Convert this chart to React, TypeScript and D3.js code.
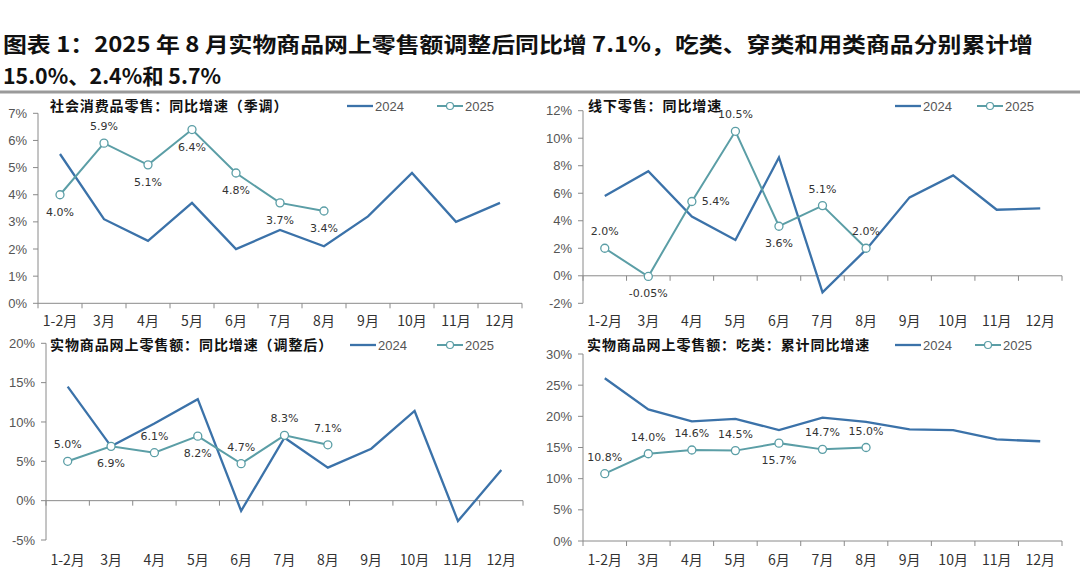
import * as d3 from "d3";

const months = ["1-2月", "3月", "4月", "5月", "6月", "7月", "8月", "9月", "10月", "11月", "12月"];

// 社会消费品零售：同比增速（季调）
const retail2024 = [5.5, 3.1, 2.3, 3.7, 2.0, 2.7, 2.1, 3.2, 4.8, 3.0, 3.7];
const retail2025 = [4.0, 5.9, 5.1, 6.4, 4.8, 3.7, 3.4];
const retailLabels = ["4.0%", "5.9%", "5.1%", "6.4%", "4.8%", "3.7%", "3.4%"];
const retailTicks = [0, 1, 2, 3, 4, 5, 6, 7];

// 线下零售：同比增速
const offline2024 = [5.8, 7.6, 4.3, 2.6, 8.6, -1.2, 1.9, 5.7, 7.3, 4.8, 4.9];
const offline2025 = [2.0, -0.05, 5.4, 10.5, 3.6, 5.1, 2.0];
const offlineLabels = ["2.0%", "-0.05%", "5.4%", "10.5%", "3.6%", "5.1%", "2.0%"];
const offlineTicks = [-2, 0, 2, 4, 6, 8, 10, 12];

// 实物商品网上零售额：同比增速（调整后）
const online2024 = [14.5, 6.9, 9.8, 12.9, -1.3, 8.0, 4.2, 6.6, 11.4, -2.6, 3.9];
const online2025 = [5.0, 6.9, 6.1, 8.2, 4.7, 8.3, 7.1];
const onlineLabels = ["5.0%", "6.9%", "6.1%", "8.2%", "4.7%", "8.3%", "7.1%"];
const onlineTicks = [-5, 0, 5, 10, 15, 20];

// 实物商品网上零售额：吃类：累计同比增速
const food2024 = [26.1, 21.1, 19.2, 19.6, 17.8, 19.8, 19.1, 17.9, 17.8, 16.3, 16.0];
const food2025 = [10.8, 14.0, 14.6, 14.5, 15.7, 14.7, 15.0];
const foodLabels = ["10.8%", "14.0%", "14.6%", "14.5%", "15.7%", "14.7%", "15.0%"];
const foodTicks = [0, 5, 10, 15, 20, 25, 30];

const C2024 = "#3b72a9";
const C2025 = "#5b9ea6";
const AXIS = "#8a8a8a";
const CJK = "'Noto Sans CJK SC', sans-serif";

type Pos = "a" | "b" | "r";

type PanelProps = {
  title: string;
  x0: number;
  x1: number;
  yTop: number;
  yBottom: number;
  ticks: number[];
  s2024: number[];
  s2025: number[];
  labels: string[];
  pos: Pos[];
  titleX: number;
  titleY: number;
  legendX: number;
  legend2X: number;
  labelY: number;
};

function Panel(p: PanelProps) {
  const x = d3.scaleBand<string>().domain(months).range([p.x0, p.x1]);
  const y = d3
    .scaleLinear()
    .domain(d3.extent(p.ticks) as [number, number])
    .range([p.yBottom, p.yTop]);
  const cx = (i: number) => (x(months[i]) as number) + x.bandwidth() / 2;

  const line = d3
    .line<number>()
    .x((_, i) => cx(i))
    .y((d) => y(d));

  const y0 = y(0);
  const edges = months.map((m) => x(m) as number).concat([p.x1]);

  return (
    <g>
      {/* y axis */}
      <line x1={p.x0} x2={p.x0} y1={p.yTop} y2={p.yBottom} stroke={AXIS} />
      {p.ticks.map((t) => (
        <g key={t}>
          <line x1={p.x0 - 5} x2={p.x0} y1={y(t)} y2={y(t)} stroke={AXIS} />
          <text
            x={p.x0 - 11}
            y={y(t)}
            dy="0.35em"
            textAnchor="end"
            fontFamily="'Liberation Sans', sans-serif"
            fontSize={13}
            fill="#555"
          >
            {t}%
          </text>
        </g>
      ))}
      {/* x axis */}
      <line x1={p.x0} x2={p.x1} y1={y0} y2={y0} stroke={AXIS} />
      {edges.map((e, i) => (
        <line key={i} x1={e} x2={e} y1={y0} y2={y0 + 5} stroke={AXIS} />
      ))}
      {months.map((m, i) => (
        <text
          key={m}
          x={cx(i)}
          y={p.labelY}
          dy="0.35em"
          textAnchor="middle"
          fontFamily={CJK}
          fontSize={14}
          fill="#333"
        >
          {m}
        </text>
      ))}
      {/* series */}
      <path d={line(p.s2024) || ""} fill="none" stroke={C2024} strokeWidth={2.3} />
      <path d={line(p.s2025) || ""} fill="none" stroke={C2025} strokeWidth={2} />
      {p.s2025.map((v, i) => (
        <circle key={i} cx={cx(i)} cy={y(v)} r={4} fill="#fff" stroke={C2025} strokeWidth={1.3} />
      ))}
      {p.s2025.map((v, i) => {
        const pos = p.pos[i];
        const tx = pos === "r" ? cx(i) + 10 : cx(i);
        const ty = pos === "a" ? y(v) - 13 : pos === "b" ? y(v) + 21 : y(v) + 4;
        return (
          <text
            key={i}
            x={tx}
            y={ty}
            textAnchor={pos === "r" ? "start" : "middle"}
            fontFamily="'DejaVu Sans', sans-serif"
            fontSize={11}
            fill="#333"
          >
            {p.labels[i]}
          </text>
        );
      })}
      {/* title */}
      <text
        x={p.titleX}
        y={p.titleY}
        dy="0.35em"
        fontFamily={CJK}
        fontWeight={700}
        fontSize={14}
        letterSpacing={0.9}
        fill="#111"
      >
        {p.title}
      </text>
      {/* legend */}
      <line x1={p.legendX} x2={p.legendX + 26} y1={p.titleY} y2={p.titleY} stroke={C2024} strokeWidth={2.3} />
      <text
        x={p.legendX + 28}
        y={p.titleY}
        dy="0.35em"
        fontFamily="'Liberation Sans', sans-serif"
        fontSize={13}
        fill="#555"
      >
        2024
      </text>
      <line x1={p.legend2X} x2={p.legend2X + 26} y1={p.titleY} y2={p.titleY} stroke={C2025} strokeWidth={2} />
      <circle cx={p.legend2X + 13} cy={p.titleY} r={3.5} fill="#fff" stroke={C2025} strokeWidth={1.2} />
      <text
        x={p.legend2X + 28}
        y={p.titleY}
        dy="0.35em"
        fontFamily="'Liberation Sans', sans-serif"
        fontSize={13}
        fill="#555"
      >
        2025
      </text>
    </g>
  );
}

export default function App() {
  return (
    <div style={{ position: "fixed", left: 0, top: 0 }}>
      <svg width={1080} height={571} style={{ display: "block", background: "#fff" }}>
        <text
          x={3}
          y={45}
          dy="0.35em"
          fontFamily={CJK}
          fontWeight={700}
          fontSize={21}
          textLength={1030}
          lengthAdjust="spacingAndGlyphs"
          fill="#111"
        >
          图表 1：2025 年 8 月实物商品网上零售额调整后同比增 7.1%，吃类、穿类和用类商品分别累计增
        </text>
        <text
          x={3}
          y={77}
          dy="0.35em"
          fontFamily={CJK}
          fontWeight={700}
          fontSize={21}
          textLength={218}
          lengthAdjust="spacingAndGlyphs"
          fill="#111"
        >
          15.0%、2.4%和 5.7%
        </text>
        <line x1={0} x2={1080} y1={92} y2={92} stroke="#9a9a9a" strokeWidth={3} />

        <Panel
          title="社会消费品零售：同比增速（季调）"
          x0={38}
          x1={522}
          yTop={113.3}
          yBottom={303.3}
          ticks={retailTicks}
          s2024={retail2024}
          s2025={retail2025}
          labels={retailLabels}
          pos={["b", "a", "b", "b", "b", "b", "b"]}
          titleX={50}
          titleY={106}
          legendX={347}
          legend2X={437}
          labelY={321}
        />
        <Panel
          title="线下零售：同比增速"
          x0={583}
          x1={1062}
          yTop={110.7}
          yBottom={303.3}
          ticks={offlineTicks}
          s2024={offline2024}
          s2025={offline2025}
          labels={offlineLabels}
          pos={["a", "b", "r", "a", "b", "a", "a"]}
          titleX={588}
          titleY={106}
          legendX={895}
          legend2X={977}
          labelY={321}
        />
        <Panel
          title="实物商品网上零售额：同比增速（调整后）"
          x0={46}
          x1={523}
          yTop={343.3}
          yBottom={540}
          ticks={onlineTicks}
          s2024={online2024}
          s2025={online2025}
          labels={onlineLabels}
          pos={["a", "b", "a", "b", "a", "a", "a"]}
          titleX={50}
          titleY={345}
          legendX={350}
          legend2X={437}
          labelY={560}
        />
        <Panel
          title="实物商品网上零售额：吃类：累计同比增速"
          x0={583}
          x1={1062}
          yTop={354}
          yBottom={541}
          ticks={foodTicks}
          s2024={food2024}
          s2025={food2025}
          labels={foodLabels}
          pos={["a", "a", "a", "a", "b", "a", "a"]}
          titleX={587}
          titleY={345}
          legendX={895}
          legend2X={975}
          labelY={560}
        />
      </svg>
    </div>
  );
}
